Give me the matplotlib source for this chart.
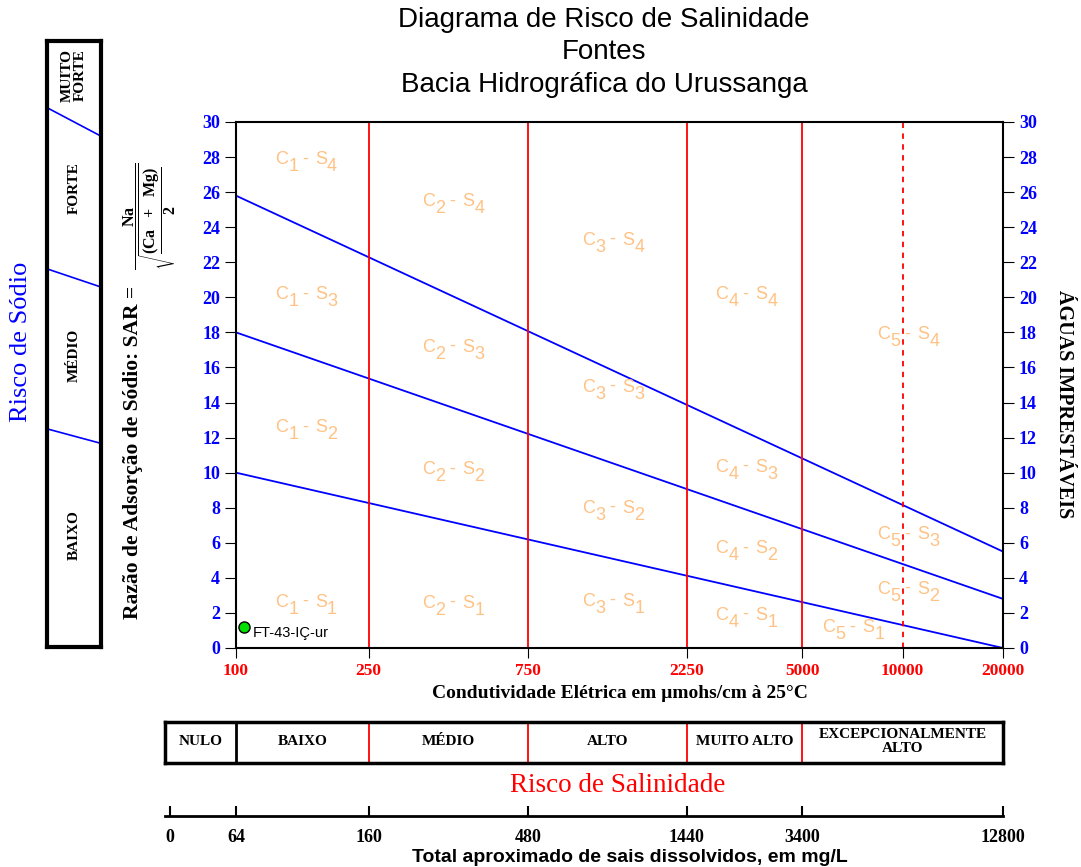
import numpy as np
import matplotlib
matplotlib.use("Agg")
import matplotlib.pyplot as plt
from matplotlib.ticker import NullLocator

plt.rcParams['font.family'] = ['Liberation Serif', 'DejaVu Serif']
plt.rcParams['mathtext.fontset'] = 'custom'
plt.rcParams['mathtext.rm'] = 'Liberation Serif:bold'
plt.rcParams['mathtext.it'] = 'Liberation Serif:bold'
plt.rcParams['mathtext.bf'] = 'Liberation Serif:bold'

# linhas de separacao do risco de sodio (SAR x condutividade)
ec_ends = [100, 20000]
sar_s4 = [25.8, 5.5]
sar_s3 = [18.0, 2.8]
sar_s2 = [10.0, 0.0]

# limites das classes de salinidade
ec_classes = [250, 750, 2250, 5000]
ec_dashed = [10000]
ec_ticks = [100, 250, 750, 2250, 5000, 10000, 20000]
sar_ticks = list(range(0, 31, 2))

# rotulos C-S
class_c = [1, 1, 1, 1, 2, 2, 2, 2, 3, 3, 3, 3, 4, 4, 4, 4, 5, 5, 5, 5]
class_s = [4, 3, 2, 1, 4, 3, 2, 1, 4, 3, 2, 1, 4, 3, 2, 1, 4, 3, 2, 1]
class_ec = [164, 164, 164, 164, 454, 454, 454, 454, 1371, 1371, 1371, 1371,
            3436, 3436, 3436, 3436, 10520, 10520, 10520, 7195]
class_sar = [27.7, 20.0, 12.4, 2.45, 25.3, 17.0, 10.0, 2.4, 23.1, 14.7, 7.8, 2.5,
             20.0, 10.15, 5.5, 1.7, 17.7, 6.3, 3.2, 1.0]

# amostra
sample_ec = [106]
sample_sar = [1.2]
sample_names = ["FT-43-IÇ-ur"]

# tabela de risco de salinidade
sal_names = ["NULO", "BAIXO", "MÉDIO", "ALTO", "MUITO ALTO", "EXCEPCIONALMENTE\nALTO"]
sal_bounds = [61.2, 100, 250, 750, 2250, 5000, 20000]

# escala de sais dissolvidos
tds_labels = ["0", "64", "160", "480", "1440", "3400", "12800"]
tds_pos = [63.4, 100, 250, 750, 2250, 5000, 20000]

# painel de risco de sodio
sod_names = ["MUITO\nFORTE", "FORTE", "MÉDIO", "BAIXO"]

W, H = 1081, 867
fig = plt.figure(figsize=(W / 100, H / 100), dpi=100)


def rect(x0, y0, x1, y1):
    # pixels (topo-esquerda) -> fracao da figura
    return [x0 / W, 1 - y1 / H, (x1 - x0) / W, (y1 - y0) / H]


def px(x, y):
    return x / W, 1 - y / H


orange = '#FFC285'
blue = '#0000FF'

# --- grafico principal ---
ax = fig.add_axes(rect(236, 122, 1003, 648))
ax.set_xscale('log')
ax.set_xlim(ec_ends[0], ec_ends[1])
ax.set_ylim(0, 30)
for sar in (sar_s4, sar_s3, sar_s2):
    ax.plot(ec_ends, sar, color=blue, lw=1.3)
for ec in ec_classes:
    ax.axvline(ec, color='red', lw=1.3)
for ec in ec_dashed:
    ax.axvline(ec, color='red', lw=1.3, ls=(0, (3, 3)))


def class_label(x, y, c, s):
    # C e S com subscrito quase do mesmo tamanho, como no original
    parts = [("C", -23.5, 2), (str(c), -14.0, -3), ("-", -4.0, 2.5),
             ("S", 5.5, 2), (str(s), 14.0, -3)]
    for t, dx, dy in parts:
        ax.annotate(t, (x, y), xytext=(dx, dy), textcoords='offset points',
                    color=orange, fontsize=13, family='Liberation Sans',
                    ha='left', va='center')


for c, s, x, y in zip(class_c, class_s, class_ec, class_sar):
    class_label(x, y, c, s)

ax.plot(sample_ec, sample_sar, 'o', mfc='#00E000', mec='black', ms=8, mew=1)
for x, y, n in zip(sample_ec, sample_sar, sample_names):
    ax.annotate(n, (x, y), xytext=(6, -4), textcoords='offset points',
                fontsize=10.5, family='Liberation Sans', va='center')

ax.set_xticks(ec_ticks)
ax.set_xticklabels([str(v) for v in ec_ticks])
ax.xaxis.set_minor_locator(NullLocator())
ax.set_yticks(sar_ticks)
ax.tick_params(axis='x', direction='out', length=7, colors='black',
               labelcolor='red', labelsize=12.5, pad=4)
ax.tick_params(axis='y', direction='out', length=8, left=True, right=True,
               labelleft=True, labelright=True, labelcolor=blue, labelsize=13)
for lab in ax.get_xticklabels() + ax.yaxis.get_ticklabels(which='both'):
    lab.set_fontweight('bold')
for lab in ax.yaxis.get_majorticklabels():
    lab.set_fontweight('bold')
for sp in ax.spines.values():
    sp.set_linewidth(1.5)

# --- titulo ---
for yy, t in zip([20, 52, 85], ["Diagrama de Risco de Salinidade", "Fontes",
                               "Bacia Hidrográfica do Urussanga"]):
    fig.text(*px(604, yy), t, ha='center', va='center', fontsize=20,
             family='Liberation Sans')

# --- rotulos dos eixos ---
fig.text(*px(620, 694), "Condutividade Elétrica em µmohs/cm à 25°C", ha='center',
         va='center', fontsize=14, fontweight='bold')
fig.text(*px(133, 452), "Razão de Adsorção de Sódio: SAR =", rotation=90,
         ha='center', va='center', fontsize=15.5, fontweight='bold')
fig.text(*px(150, 216), r"$\dfrac{Na}{\sqrt{\dfrac{(Ca\ \ +\ \ Mg)}{2}}}$",
         rotation=90, ha='center', va='center', fontsize=11.5)
fig.text(*px(1064, 404), "ÁGUAS IMPRESTÁVEIS", rotation=-90, ha='center',
         va='center', fontsize=14.5, fontweight='bold')
fig.text(*px(21, 342), "Risco de Sódio", rotation=90, ha='center', va='center',
         fontsize=19, color=blue)

# --- painel de risco de sodio ---
axs = fig.add_axes(rect(47, 41, 101, 647))
axs.set_xlim(0, 1)
axs.set_ylim(1, 0)
axs.set_xticks([])
axs.set_yticks([])
for sp in axs.spines.values():
    sp.set_linewidth(3)
sod_div_l = [0.11, 0.376, 0.64]
sod_div_r = [0.157, 0.406, 0.664]
for yl, yr in zip(sod_div_l, sod_div_r):
    axs.plot([0, 1], [yl, yr], color=blue, lw=1.2)
sod_text_y = [0.057, 0.243, 0.518, 0.815]
for n, y in zip(sod_names, sod_text_y):
    axs.text(0.5, y, n, rotation=90, ha='center', va='center', fontsize=11,
             fontweight='bold', linespacing=1.05)

# --- tabela de salinidade ---
axt = fig.add_axes(rect(165, 722, 1003, 763))
axt.set_xscale('log')
axt.set_xlim(sal_bounds[0], sal_bounds[-1])
axt.set_ylim(0, 1)
axt.set_xticks([])
axt.set_yticks([])
axt.xaxis.set_minor_locator(NullLocator())
for sp in axt.spines.values():
    sp.set_linewidth(2.5)
for i, b in enumerate(sal_bounds[1:-1]):
    axt.axvline(b, color='black' if i == 0 else 'red', lw=2 if i == 0 else 1.3)
for i, n in enumerate(sal_names):
    xc = np.sqrt(sal_bounds[i] * sal_bounds[i + 1])
    axt.text(xc, 0.52, n, ha='center', va='center', fontsize=11,
             fontweight='bold', linespacing=1.15)
fig.text(*px(618, 786), "Risco de Salinidade", ha='center', va='center',
         fontsize=19.5, color='red')

# --- escala de sais dissolvidos ---
axd = fig.add_axes(rect(165, 760, 1003, 816))
axd.set_xscale('log')
axd.set_xlim(sal_bounds[0], sal_bounds[-1])
axd.patch.set_alpha(0)
axd.set_yticks([])
for k in ('top', 'left', 'right'):
    axd.spines[k].set_visible(False)
axd.spines['bottom'].set_linewidth(2)
axd.set_xticks(tds_pos)
axd.set_xticklabels(tds_labels)
axd.xaxis.set_minor_locator(NullLocator())
axd.tick_params(axis='x', direction='in', length=7, width=1.5, labelsize=13, pad=9)
for lab in axd.get_xticklabels():
    lab.set_fontweight('bold')
fig.text(*px(630, 857), "Total aproximado de sais dissolvidos, em mg/L", ha='center',
         va='center', fontsize=14, family='Liberation Sans', fontweight='bold')

fig.savefig("out.png", dpi=100)
